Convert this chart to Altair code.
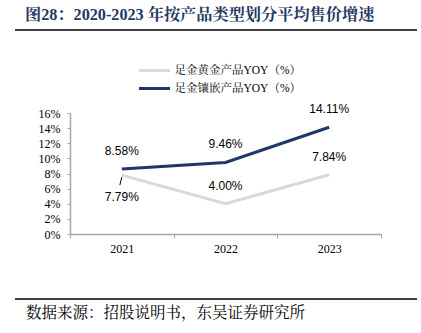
import altair as alt
import pandas as pd

years = ["2021", "2022", "2023"]
gold_yoy = [7.79, 4.00, 7.84]
inlay_yoy = [8.58, 9.46, 14.11]
series_names = ["足金黄金产品YOY（%）", "足金镶嵌产品YOY（%）"]
series_colors = ["#D9D9D9", "#1F3864"]
y_ticks = [0, 2, 4, 6, 8, 10, 12, 14, 16]
title_text = "图28：2020-2023 年按产品类型划分平均售价增速"
source_text = "数据来源：招股说明书，东吴证券研究所"

SERIF = "'Times New Roman', 'Liberation Serif', 'Noto Serif CJK SC', 'Noto Sans CJK SC'"
SANS = "Arial, 'Liberation Sans', sans-serif"

rows = []
for i, yr in enumerate(years):
    rows.append(dict(year=yr, series=series_names[0], value=gold_yoy[i],
                     label=f"{gold_yoy[i]:.2f}%", pos="below" if i == 0 else "above"))
    rows.append(dict(year=yr, series=series_names[1], value=inlay_yoy[i],
                     label=f"{inlay_yoy[i]:.2f}%", pos="above"))
df = pd.DataFrame(rows)

W, H = 311, 121

x_enc = alt.X("year:N", sort=years,
              scale=alt.Scale(type="band", paddingInner=0, paddingOuter=0),
              axis=alt.Axis(title=None, labelAngle=0, tickBand="extent", tickSize=4,
                            labelPadding=5, labelFont=SERIF, labelFontSize=12,
                            labelColor="#000000", domainColor="#A6A6A6", tickColor="#A6A6A6",
                            domainWidth=1.5, grid=False))
y_enc = alt.Y("value:Q", scale=alt.Scale(domain=[0, 16], nice=False),
              axis=alt.Axis(title=None, values=y_ticks, labelExpr="datum.value + '%'",
                            labelOverlap=False, labelFlush=False,
                            tickSize=3, labelPadding=7, labelFont=SERIF, labelFontSize=12,
                            labelColor="#000000", domainColor="#A6A6A6", tickColor="#A6A6A6",
                            domainWidth=1.5, grid=False))

lines = alt.Chart(df).mark_line(strokeWidth=3).encode(
    x=x_enc, y=y_enc,
    color=alt.Color("series:N", sort=series_names,
                    scale=alt.Scale(domain=series_names, range=series_colors),
                    legend=alt.Legend(title=None, orient="none", legendX=75, legendY=-52,
                                      symbolType="M-1.94,0H1.94", symbolSize=256,
                                      symbolStrokeWidth=3,
                                      labelFont=SERIF, labelFontSize=11.5, labelColor="#000000",
                                      labelOffset=10.5, rowPadding=2)),
    detail="series:N",
)

labels_above = alt.Chart(df).transform_filter("datum.pos == 'above'").mark_text(
    dy=-18, font=SANS, fontSize=12, color="#000000").encode(
    x=x_enc, y=y_enc, text="label:N")

labels_below = alt.Chart(df).transform_filter("datum.pos == 'below'").mark_text(
    dy=22, font=SANS, fontSize=12, color="#000000").encode(
    x=x_enc, y=y_enc, text="label:N")

leader = alt.Chart(df).transform_filter("datum.pos == 'below'").mark_rule(
    color="#000000", strokeWidth=1, yOffset=2, y2Offset=10, xOffset=0, x2Offset=-2).encode(
    x=x_enc, x2="year:N", y=y_enc, y2="value:Q")

title_df = pd.DataFrame({"t": [title_text]})
source_df = pd.DataFrame({"t": [source_text]})

title = alt.Chart(title_df).mark_text(align="left", baseline="middle", font=SERIF,
                                      fontSize=16.2, fontWeight="bold", color="#1F3864").encode(
    x=alt.value(-45), y=alt.value(-98), text="t:N")
source = alt.Chart(source_df).mark_text(align="left", baseline="middle", font=SERIF,
                                        fontSize=15.5, color="#000000").encode(
    x=alt.value(-44), y=alt.value(200), text="t:N")

top_rule = alt.Chart(title_df).mark_rule(color="#000000", strokeWidth=1.5).encode(
    x=alt.value(-55), x2=alt.value(347), y=alt.value(-83))
bottom_rule = alt.Chart(source_df).mark_rule(color="#000000", strokeWidth=1.5).encode(
    x=alt.value(-55), x2=alt.value(347), y=alt.value(186))

chart = alt.layer(lines, labels_above, labels_below, leader, title, source, top_rule, bottom_rule).properties(
    width=W, height=H,
    padding={"left": 70, "top": 113, "right": 40, "bottom": 99},
    autosize=alt.AutoSizeParams(type="none"),
    background="#FFFFFF",
).configure_view(stroke=None)

chart.save("out.html", embed_options={"renderer": "svg", "actions": False})
